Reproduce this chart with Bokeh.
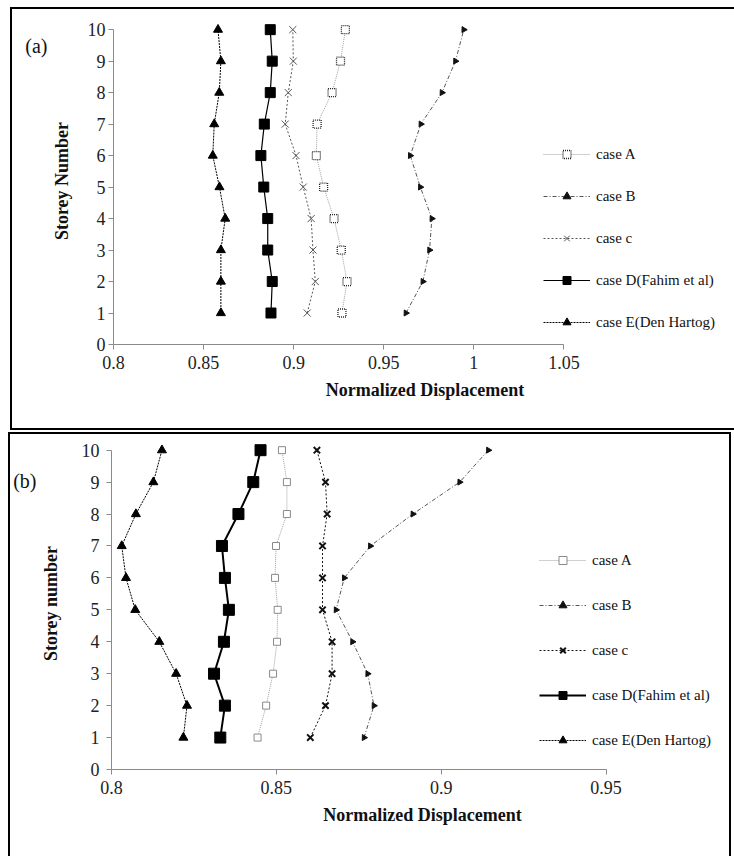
from bokeh.plotting import figure
from bokeh.models import FixedTicker, Legend, LegendItem, Range1d, LinearAxis
from bokeh.layouts import column
from bokeh.embed import file_html
from bokeh.resources import INLINE

storeys = [1, 2, 3, 4, 5, 6, 7, 8, 9, 10]
y_ticks = [0, 1, 2, 3, 4, 5, 6, 7, 8, 9, 10]

# Panel (a)
a_ticks = [0.8, 0.85, 0.9, 0.95, 1.0, 1.05]
a_tick_labels = ["0.8", "0.85", "0.9", "0.95", "1", "1.05"]
a_caseA = [0.9268, 0.9296, 0.9264, 0.9224, 0.9166, 0.9126, 0.9130, 0.9213, 0.9260, 0.9287]
a_caseB = [0.9623, 0.9717, 0.9754, 0.9767, 0.9703, 0.9647, 0.9706, 0.9823, 0.9898, 0.9944]
a_caseC = [0.9075, 0.9120, 0.9107, 0.9097, 0.9053, 0.9013, 0.8953, 0.8970, 0.8998, 0.8995]
a_caseD = [0.8874, 0.8881, 0.8856, 0.8856, 0.8834, 0.8818, 0.8837, 0.8870, 0.8881, 0.8870]
a_caseE = [0.8596, 0.8596, 0.8596, 0.8620, 0.8588, 0.8551, 0.8559, 0.8587, 0.8596, 0.8580]

# Panel (b)
b_ticks = [0.8, 0.85, 0.9, 0.95]
b_tick_labels = ["0.8", "0.85", "0.9", "0.95"]
b_caseA = [0.8443, 0.8469, 0.8490, 0.8502, 0.8504, 0.8496, 0.8499, 0.8532, 0.8532, 0.8517]
b_caseB = [0.8766, 0.8796, 0.8777, 0.8731, 0.8681, 0.8706, 0.8785, 0.8914, 0.9056, 0.9143]
b_caseC = [0.8603, 0.8649, 0.8669, 0.8669, 0.8640, 0.8640, 0.8640, 0.8654, 0.8649, 0.8623]
b_caseD = [0.8330, 0.8344, 0.8311, 0.8341, 0.8356, 0.8344, 0.8335, 0.8385, 0.8430, 0.8452]
b_caseE = [0.8218, 0.8229, 0.8196, 0.8145, 0.8072, 0.8044, 0.8031, 0.8074, 0.8127, 0.8153]

names = ["case A", "case B", "case c", "case D(Fahim et al)", "case E(Den Hartog)"]
tags = ["(a)", "(b)"]

SERIF = "Liberation Serif"
AXIS_GRAY = "#8a8a8a"


def make_panel(xs_list, ticks, tick_labels, x_ppu, y_ppu, frame_w, frame_h,
               mb_left, mb_right, mb_top, mb_bottom, ylabel, ylabel_standoff,
               ytick_standoff, tag, tag_y, tag_standoff,
               legend_loc, legend_spacing, bold_b, styles):
    x0 = ticks[0]
    p = figure(frame_width=frame_w, frame_height=frame_h,
               x_range=Range1d(x0, x0 + frame_w / x_ppu),
               y_range=Range1d(0, frame_h / y_ppu),
               min_border_left=mb_left, min_border_right=mb_right,
               min_border_top=mb_top, min_border_bottom=mb_bottom,
               output_backend="svg", toolbar_location=None,
               background_fill_color="white", border_fill_color="white")
    p.outline_line_color = None
    p.xgrid.visible = False
    p.ygrid.visible = False

    for ax in (p.xaxis[0], p.yaxis[0]):
        ax.axis_line_color = AXIS_GRAY
        ax.major_tick_line_color = AXIS_GRAY
        ax.major_tick_out = 5
        ax.major_tick_in = 0
        ax.minor_tick_line_color = None
        ax.major_label_text_font = SERIF
        ax.major_label_text_font_size = "18px"
        ax.major_label_text_color = "#222222"
        ax.axis_label_text_font = SERIF
        ax.axis_label_text_font_style = "bold"
        ax.axis_label_text_font_size = "18px"
        ax.axis_label_text_color = "#111111"
    xa = p.xaxis[0]
    xa.ticker = FixedTicker(ticks=ticks)
    xa.major_label_overrides = {t: l for t, l in zip(ticks, tick_labels)}
    xa.bounds = (ticks[0], ticks[-1])
    xa.axis_label = "Normalized Displacement"
    xa.major_label_standoff = 6
    xa.axis_label_standoff = 8
    ya = p.yaxis[0]
    ya.ticker = FixedTicker(ticks=y_ticks)
    ya.bounds = (0, 10)
    ya.axis_label = ylabel
    ya.major_label_standoff = ytick_standoff
    ya.axis_label_standoff = ylabel_standoff

    # panel tag "(a)"/"(b)" as the single tick label of an extra, invisible left axis
    tag_axis = LinearAxis(ticker=FixedTicker(ticks=[tag_y]),
                          major_label_overrides={tag_y: tag},
                          axis_line_color=None, major_tick_line_color=None,
                          minor_tick_line_color=None, major_tick_out=0,
                          major_tick_in=0, major_label_standoff=tag_standoff,
                          major_label_text_font=SERIF,
                          major_label_text_font_size="20px",
                          major_label_text_color="#111111")
    p.add_layout(tag_axis, "left")

    cA, cB, cC, cD, cE = xs_list
    items = []

    lA = p.line(cA, storeys, line_color="#a0a0a0", line_width=1, line_dash="1 1")
    if bold_b:
        sA = p.scatter(cA, storeys, marker="square", size=7, line_color="#8a8a8a",
                       fill_color="white", line_width=1)
    else:
        sA = p.scatter(cA, storeys, marker="square", size=8, line_color="#222222",
                       fill_color="white", line_width=1.3, line_dash="1 1")
    items.append(LegendItem(label=names[0], renderers=[lA, sA]))

    lB = p.line(cB, storeys, line_color="#555555", line_width=1, line_dash="4 2 1 2")
    sB = p.scatter(cB, storeys, marker="triangle", size=6, angle=0.5,
                   line_color="#111111", fill_color="#111111")
    items.append(LegendItem(label=names[1], renderers=[lB, sB]))

    cc = "#111111" if bold_b else "#555555"
    lC = p.line(cC, storeys, line_color=cc, line_width=1, line_dash="2 2")
    sC = p.scatter(cC, storeys, marker="x", size=9 if bold_b else 10, line_color=cc,
                   line_width=2 if bold_b else 1)
    items.append(LegendItem(label=names[2], renderers=[lC, sC]))

    lD = p.line(cD, storeys, line_color="black", line_width=2 if bold_b else 1.2)
    sD = p.scatter(cD, storeys, marker="square", size=11 if bold_b else 10,
                   line_color="black", fill_color="black")
    items.append(LegendItem(label=names[3], renderers=[lD, sD]))

    lE = p.line(cE, storeys, line_color="black", line_width=1, line_dash="2 1")
    sE = p.scatter(cE, storeys, marker="triangle", size=9,
                   line_color="black", fill_color="black")
    items.append(LegendItem(label=names[4], renderers=[lE, sE]))

    leg = Legend(items=items, location=legend_loc, orientation="vertical",
                 glyph_width=47, glyph_height=20, label_height=20,
                 label_standoff=6, spacing=legend_spacing, padding=0, margin=0,
                 border_line_color=None, background_fill_alpha=0,
                 label_text_font=SERIF, label_text_font_size="15px",
                 label_text_color="#111111")
    p.add_layout(leg, "center")
    p.styles = styles
    return p


p1 = make_panel([a_caseA, a_caseB, a_caseC, a_caseD, a_caseE], a_ticks, a_tick_labels,
                x_ppu=1796.0, y_ppu=31.1, frame_w=621, frame_h=323,
                mb_left=101, mb_right=0, mb_top=8, mb_bottom=88,
                ylabel="Storey Number", ylabel_standoff=13, ytick_standoff=3,
                tag=tags[0], tag_y=9.47, tag_standoff=1,
                legend_loc=(430, 12), legend_spacing=22, bold_b=False,
                styles={"margin-left": "10px", "margin-top": "7px",
                        "border-top": "2px solid black", "border-left": "2px solid black",
                        "border-bottom": "2px solid black"})

p2 = make_panel([b_caseA, b_caseB, b_caseC, b_caseD, b_caseE], b_ticks, b_tick_labels,
                x_ppu=3276.0, y_ppu=31.74, frame_w=618, frame_h=330,
                mb_left=99, mb_right=0, mb_top=3, mb_bottom=89,
                ylabel="Storey number", ylabel_standoff=18, ytick_standoff=7,
                tag=tags[1], tag_y=9.04, tag_standoff=1,
                legend_loc=(428, 19), legend_spacing=25, bold_b=True,
                styles={"margin-left": "8px",
                        "border-top": "2px solid black", "border-left": "2px solid black",
                        "border-right": "2px solid black"})

layout = column(p1, p2, spacing=2)
open("out.html", "w").write(file_html(layout, INLINE))
